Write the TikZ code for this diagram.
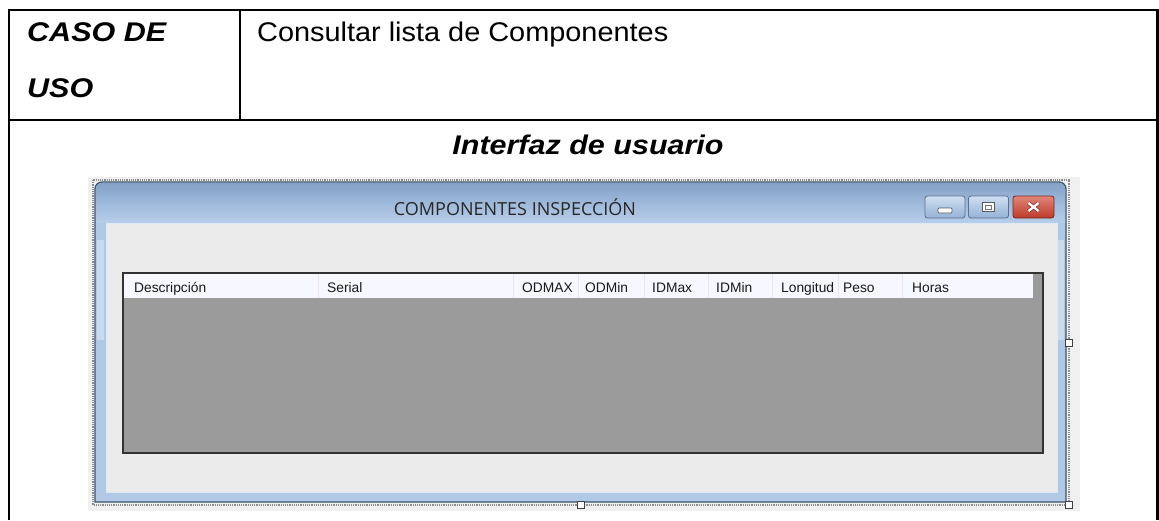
\documentclass[tikz,border=0pt]{standalone}
\usepackage{fontspec}
\setmainfont{Liberation Sans}
\newfontfamily\segoe{Open Sans}
\usetikzlibrary{positioning}
\definecolor{shotbg}{HTML}{F0F0F0}
\definecolor{frameout}{HTML}{3E5569}
\definecolor{frameblue}{HTML}{AFC9E7}
\definecolor{titletop}{HTML}{84A2C8}
\definecolor{titlebot}{HTML}{B8CFEA}
\definecolor{client}{HTML}{EBEBEB}
\definecolor{gridbg}{HTML}{9B9B9B}
\definecolor{gridline}{HTML}{E1E8F1}
\definecolor{btnedge}{HTML}{5B6F90}
\definecolor{btntop}{HTML}{D0DFF0}
\definecolor{btnbot}{HTML}{94B2D7}
\definecolor{closetop}{HTML}{E08676}
\definecolor{closebot}{HTML}{BC3A2B}
\definecolor{closeedge}{HTML}{77291F}
\newcommand{\wide}[2][1.13]{\scalebox{#1}[1]{#2}}
\begin{document}
\begin{tikzpicture}[x=1pt,y=1pt]
    \tikzset{
    cell/.style={line width=2.6},
    big/.style={anchor=base west,inner sep=0,font=\fontsize{27}{32}\selectfont},
    bigbf/.style={big,font=\fontsize{27}{32}\selectfont\bfseries\itshape},
    col/.style={anchor=base west,inner sep=0,font=\fontsize{13.8}{16}\selectfont,text=black!90},
    winbtn/.style={draw=btnedge,line width=0.8,rounded corners=2.5,top color=btntop,bottom color=btnbot,minimum width=40,minimum height=22,inner sep=0},
    grip/.style={draw=black!75,fill=white,line width=0.9,minimum size=7,inner sep=0},
    }
    \useasboundingbox (0,0) rectangle (1159,-520);

    % table
    \draw[cell] (9,-520) -- (9,-10) -- (1157.5,-10) -- (1157.5,-520);
    \draw[cell] (9,-120) -- (1157.5,-120);
    \draw[cell] (240,-10) -- (240,-120);
    \node[bigbf] (caso) at (27,-41) {\wide{CASO DE}};
    \node[bigbf] (uso) at (27,-97) {\wide{USO}};
    \node[big] (nombre) at (257,-41) {\wide[1.07]{Consultar lista de Componentes}};
    \node[bigbf,anchor=base] (interfaz) at (588,-154) {\wide{Interfaz de usuario}};

    % screenshot
    \fill[shotbg] (88,-177) rectangle (1080,-511);
    \draw[black!45,densely dotted,line width=1.2] (93,-180) rectangle (1069,-505);
    \filldraw[fill=frameblue,draw=frameout,line width=1.3]
        (95,-502) {[rounded corners=7] -- (95,-182) -- (1066,-182)} -- (1066,-502) -- cycle;
    \shade[top color=titletop,bottom color=titlebot]
        (96,-223) {[rounded corners=6] -- (96,-183) -- (1065,-183)} -- (1065,-223) -- cycle;
    \fill[white,opacity=0.35] (97,-240) rectangle (104,-340);
    \fill[white,opacity=0.35] (1058,-240) rectangle (1064,-340);
    \filldraw[fill=client,draw=white!60!frameblue,line width=0.8] (106,-223) rectangle (1057,-492);
    \node[anchor=base,inner sep=0,font=\segoe\fontsize{18}{21}\selectfont,text=black!85] (titulo) at (515,-215) {COMPONENTES INSPECCIÓN};

    % buttons
    \node[winbtn] (bmin) at (945,-207) {};
    \node[winbtn] (bmax) at (988.5,-207) {};
    \node[winbtn,top color=closetop,bottom color=closebot,draw=closeedge,minimum width=41] (bclose) at (1033.5,-207) {};
    \filldraw[fill=white,draw=black!65,line width=0.7,rounded corners=1]
        ([shift={(-7,-1)}]bmin.center) rectangle ([shift={(7,-6)}]bmin.center);
    \filldraw[fill=white,draw=black!65,line width=0.7]
        ([shift={(-6,5)}]bmax.center) rectangle ([shift={(6,-4)}]bmax.center);
    \draw[black!55,line width=0.9] ([shift={(-3,2)}]bmax.center) rectangle ([shift={(3,-2)}]bmax.center);
    \draw[closeedge,line width=3.8] ([shift={(-5,4)}]bclose.center) -- ([shift={(5,-4)}]bclose.center);
    \draw[closeedge,line width=3.8] ([shift={(-5,-4)}]bclose.center) -- ([shift={(5,4)}]bclose.center);
    \draw[white,line width=2.4] ([shift={(-5,4)}]bclose.center) -- ([shift={(5,-4)}]bclose.center);
    \draw[white,line width=2.4] ([shift={(-5,-4)}]bclose.center) -- ([shift={(5,4)}]bclose.center);

    % grid
    \node[draw=black!80,fill=gridbg,line width=1.5,minimum width=920,minimum height=180,
        anchor=north west,inner sep=0] (grid) at (122,-272) {};
    \fill[white!97!blue] (123.5,-274) rectangle (1033,-297.5);
    \foreach \sx in {318,513,578,644,708,772,838,902}
        \draw[gridline,line width=1] (\sx,-274) -- (\sx,-297.5);
    \foreach \lx/\lt [count=\i] in {134/Descripción,327/Serial,522/ODMAX,585/ODMin,652/IDMax,716/IDMin,781/Longitud,843/Peso,912/Horas}
        \node[col] (h\i) at (\lx,-292) {\lt};

    % grips
    \node[grip] (g1) at (581,-505) {};
    \node[grip] (g2) at (1069,-343) {};
    \node[grip] (g3) at (1069,-505) {};
\end{tikzpicture}
\end{document}
